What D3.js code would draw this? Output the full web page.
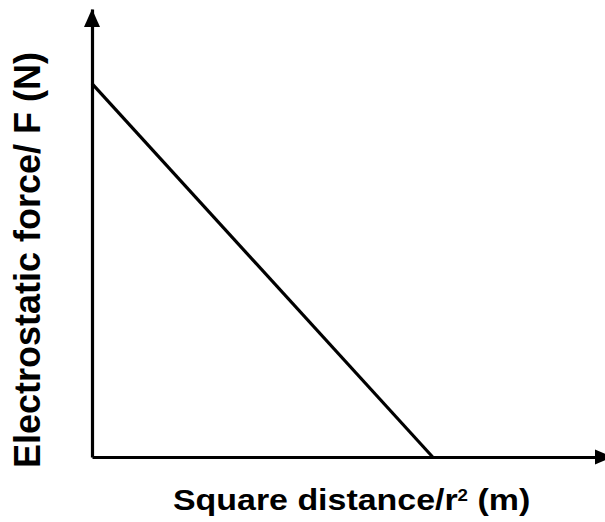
<!DOCTYPE html>
<html>
<head>
<meta charset="utf-8">
<script src="https://cdn.jsdelivr.net/npm/d3@7"></script>
<style>
  html, body { margin: 0; padding: 0; background: #fff; }
  svg { display: block; }
  text { font-family: "Liberation Sans", Arial, sans-serif; font-weight: bold; fill: #000; }
</style>
</head>
<body>
<svg id="chart" width="605" height="522"></svg>
<script>
// Linear relation: force falls to zero as the squared distance grows
const squareDistance = [0, 10];
const force = [10, 0];
const xDomain = [0, 15];
const yDomain = [0, 12];
const xTitle = "Square distance/r";
const xTitleSup = "2";
const xTitleUnit = " (m)";
const yTitle = "Electrostatic force/ F (N)";

const svg = d3.select("#chart");
const W = 605, H = 522;
svg.append("rect").attr("width", W).attr("height", H).attr("fill", "#fff");

const x = d3.scaleLinear().domain(xDomain).range([92, 603]);
const y = d3.scaleLinear().domain(yDomain).range([457, 9]);

// Axes: plain domain lines without ticks
svg.append("g")
  .attr("transform", `translate(0,${y(0)})`)
  .call(d3.axisBottom(x).tickValues([]).tickSizeOuter(0));
svg.append("g")
  .attr("transform", `translate(${x(0)},0)`)
  .call(d3.axisLeft(y).tickValues([]).tickSizeOuter(0));
svg.selectAll(".domain").attr("stroke", "#000").attr("stroke-width", 3.2);

// Arrowheads at the axis ends
const xEnd = x(xDomain[1]), yEnd = y(yDomain[1]);
svg.append("path")
  .attr("d", `M${xEnd + 10},${y(0)} L${xEnd - 8},${y(0) - 7.5} L${xEnd - 8},${y(0) + 7.5} Z`)
  .attr("fill", "#000");
svg.append("path")
  .attr("d", `M${x(0)},${yEnd} L${x(0) - 8},${yEnd + 18} L${x(0) + 8},${yEnd + 18} Z`)
  .attr("fill", "#000");

// The data line
const pts = squareDistance.map((d, i) => [d, force[i]]);
svg.append("path")
  .datum(pts)
  .attr("d", d3.line().x(d => x(d[0])).y(d => y(d[1])))
  .attr("fill", "none")
  .attr("stroke", "#000")
  .attr("stroke-width", 3.2);

// Axis titles
const xt = svg.append("text")
  .attr("transform", "translate(173,510) scale(1.17,1)")
  .attr("font-size", 29);
xt.append("tspan").text(xTitle);
xt.append("tspan").attr("font-size", 16).attr("dy", -9).text(xTitleSup);
xt.append("tspan").attr("dy", 9).text(xTitleUnit);

svg.append("text")
  .attr("transform", "translate(40,260) rotate(-90)")
  .attr("text-anchor", "middle")
  .attr("font-size", 36)
  .text(yTitle);
</script>
</body>
</html>
